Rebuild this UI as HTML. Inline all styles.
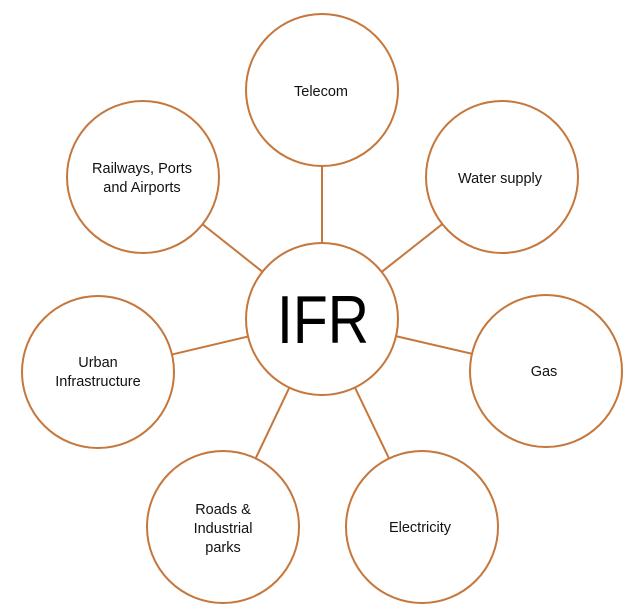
<!DOCTYPE html>
<html><head><style>
html,body{margin:0;padding:0;background:#fff;}
svg{display:block;}
text{font-family:"Liberation Sans",sans-serif;font-size:14.5px;fill:#111;text-anchor:middle;}
</style></head><body>
<svg width="641" height="607" viewBox="0 0 641 607">
<g stroke="#C5773C" stroke-width="2">
<line x1="322" y1="319" x2="322" y2="90"/>
<line x1="322" y1="319" x2="502" y2="177"/>
<line x1="322" y1="319" x2="546" y2="371"/>
<line x1="322" y1="319" x2="422" y2="527"/>
<line x1="322" y1="319" x2="223" y2="527"/>
<line x1="322" y1="319" x2="98" y2="372"/>
<line x1="322" y1="319" x2="143" y2="177"/>
</g>
<g stroke="#C5773C" stroke-width="2" fill="#fff">
<circle cx="322" cy="90" r="76"/>
<circle cx="502" cy="177" r="76"/>
<circle cx="546" cy="371" r="76"/>
<circle cx="422" cy="527" r="76"/>
<circle cx="223" cy="527" r="76"/>
<circle cx="98" cy="372" r="76"/>
<circle cx="143" cy="177" r="76"/>
<circle cx="322" cy="319" r="76"/>
</g>
<text x="321" y="96">Telecom</text>
<text x="500" y="183">Water supply</text>
<text x="544" y="376">Gas</text>
<text x="420" y="532">Electricity</text>
<text x="223" y="514">Roads &amp;</text>
<text x="223" y="533">Industrial</text>
<text x="223" y="552">parks</text>
<text x="98" y="367">Urban</text>
<text x="98" y="386">Infrastructure</text>
<text x="142" y="173">Railways, Ports</text>
<text x="142" y="192">and Airports</text>
<text x="323" y="343" style="font-size:68px;fill:#000" textLength="92" lengthAdjust="spacingAndGlyphs">IFR</text>
</svg>
</body></html>
